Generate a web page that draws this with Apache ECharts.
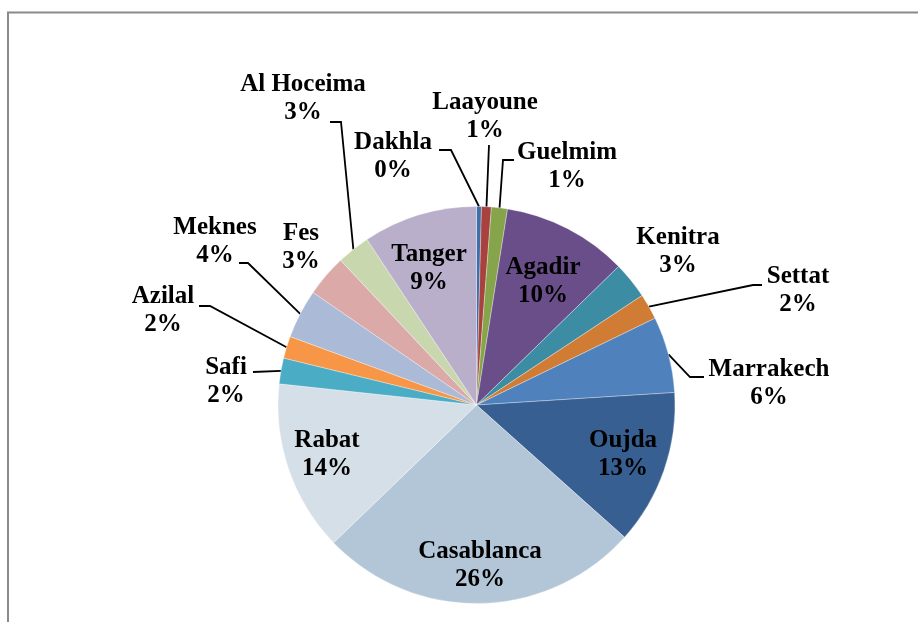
<!DOCTYPE html>
<html>
<head>
<meta charset="utf-8">
<script src="https://cdn.jsdelivr.net/npm/echarts@6/dist/echarts.min.js"></script>
<style>
  html, body { margin: 0; padding: 0; background: #fff; }
  #main { width: 918px; height: 622px; }
</style>
</head>
<body>
<div id="main"></div>
<script>
  // villes, dans l'ordre des parts (sens horaire depuis midi)
  var villes = ['Dakhla', 'Laayoune', 'Guelmim', 'Agadir', 'Kenitra', 'Settat', 'Marrakech', 'Oujda',
                'Casablanca', 'Rabat', 'Safi', 'Azilal', 'Meknes', 'Fes', 'Al Hoceima', 'Tanger'];
  // parts en %
  var parts = [0.4, 0.8, 1.3, 10.2, 3.0, 2.1, 6.2, 12.6, 26.2, 13.9, 2.1, 1.8, 4.0, 3.4, 2.7, 9.3];
  var couleurs = ['#3F6FAA', '#A8423F', '#86A44A', '#6A4E8A', '#3C8DA3', '#D07C35', '#4F81BD', '#375F91',
                  '#B3C6D8', '#D4DFE8', '#4BACC6', '#F79646', '#AABAD7', '#DAA9A8', '#C8D7AD', '#B9AFCB'];
  // centre des etiquettes (x, y) et bout du trait de rappel [x, y, coude x] ou null
  var etiquettes = [
    [393, 157, [439, 150, 451]], [485, 117, [489, 145, 489]], [567, 167, [514, 160, 503]], [543, 282, null],
    [678, 252, null], [798, 291, [762, 285, 753]], [769, 384, [704, 377, 690]], [623, 455, null],
    [480, 566, null], [327, 455, null], [226, 382, [253, 372, 253]], [163, 311, [199, 306, 210]],
    [215, 242, [239, 263, 248]], [301, 248, null], [303, 99, [330, 122, 341]], [429, 269, null]
  ];

  var cx = 476.5, cy = 405, r = 198.5;

  var total = 0;
  parts.forEach(function (v) { total += v; });
  var milieux = [];
  var cumul = 0;
  parts.forEach(function (v) {
    milieux.push((cumul + v / 2) / total * 2 * Math.PI);
    cumul += v;
  });

  var chart = echarts.init(document.getElementById('main'));

  var data = [];
  for (var i = 0; i < villes.length; i++) {
    data.push({
      name: villes[i],
      value: parts[i],
      itemStyle: { color: couleurs[i] },
      labelLine: { show: !!etiquettes[i][2] }
    });
  }

  chart.setOption({
    backgroundColor: '#fff',
    animation: false,
    graphic: [{
      type: 'rect',
      shape: { x: 8, y: 12.5, width: 1000, height: 1000 },
      style: { fill: 'none', stroke: '#8a8a8a', lineWidth: 2 },
      silent: true
    }],
    series: [{
      type: 'pie',
      center: [cx, cy],
      radius: r,
      startAngle: 90,
      clockwise: true,
      avoidLabelOverlap: false,
      itemStyle: { borderColor: 'rgba(255,255,255,0.55)', borderWidth: 0.6 },
      label: {
        show: true,
        position: 'outside',
        fontFamily: 'Liberation Serif',
        fontWeight: 'bold',
        fontSize: 25,
        lineHeight: 28,
        color: '#000',
        align: 'center',
        formatter: function (p) {
          return p.name + '\n' + Math.round(p.percent) + '%';
        }
      },
      labelLine: {
        length: 10,
        length2: 10,
        lineStyle: { color: '#000', width: 1.8 }
      },
      labelLayout: function (p) {
        var e = etiquettes[p.dataIndex];
        var res = { x: e[0], y: e[1], align: 'center', verticalAlign: 'middle', hideOverlap: false };
        if (e[2]) {
          var a = milieux[p.dataIndex];
          res.labelLinePoints = [
            [cx + r * Math.sin(a), cy - r * Math.cos(a)],
            [e[2][2], e[2][1]],
            [e[2][0], e[2][1]]
          ];
        }
        return res;
      },
      emphasis: { disabled: true },
      data: data
    }]
  });
</script>
</body>
</html>
